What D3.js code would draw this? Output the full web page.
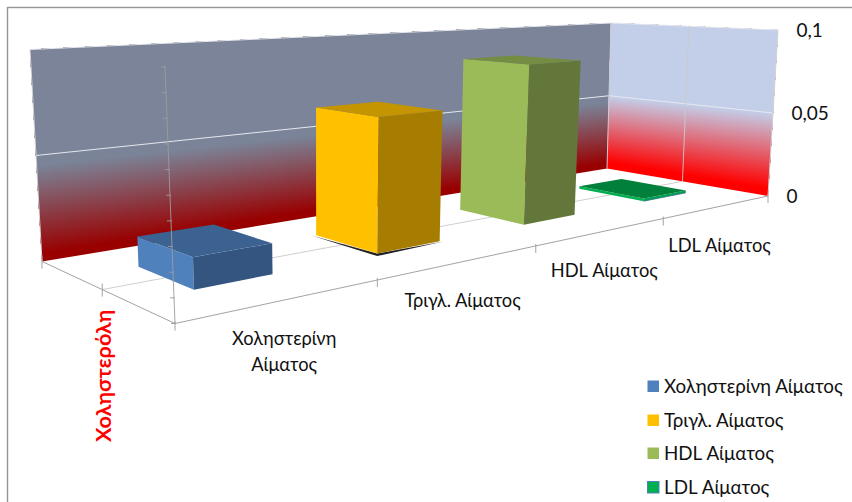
<!DOCTYPE html>
<html>
<head>
<meta charset="utf-8">
<script src="https://cdn.jsdelivr.net/npm/d3@7"></script>
<style>
  html, body { margin: 0; padding: 0; background: #fff; }
  svg { display: block; }
  text { font-family: "Lato", "Noto Sans", sans-serif; fill: #111; }
</style>
</head>
<body>
<svg id="chart" width="852" height="502"></svg>
<script>
// Chart content
const categories = ["Χοληστερίνη Αίματος", "Τριγλ. Αίματος", "HDL Αίματος", "LDL Αίματος"];
const categoryLines = [["Χοληστερίνη", "Αίματος"], ["Τριγλ. Αίματος"], ["HDL Αίματος"], ["LDL Αίματος"]];
const seriesName = "Χοληστερόλη";
const values = [0.014, 0.066, 0.086, 0.0015];
const labelledTicks = [0, 0.05, 0.1];
const tickText = ["0", "0,05", "0,1"];
const minorTicks = [0, 0.01, 0.02, 0.03, 0.04, 0.05, 0.06, 0.07, 0.08, 0.09, 0.1];

// Face colours per bar: side facing left, side facing right, top
const sideColors = ["#4f81bd", "#ffc000", "#9bbb59", "#00b050"];
const frontColors = ["#335580", "#a67d00", "#64773a", "#00a04c"];
const topColors = ["#3c6291", "#c49500", "#748d43", "#00803a"];

// Screen position of the eight corners of the 3D plot box
const floorQuad = { p00: [175, 323.5], p10: [768, 196], p11: [607, 168.5], p01: [42, 261.5] };
const ceilQuad = { p00: [165, 67], p10: [778, 30], p11: [611, 23], p01: [30, 49.5] };

// Perspective mapping of the unit square onto a screen quadrilateral
function perspectiveMap(q) {
  const [x0, y0] = q.p00, [x1, y1] = q.p10, [x2, y2] = q.p11, [x3, y3] = q.p01;
  const dx1 = x1 - x2, dx2 = x3 - x2, sx = x0 - x1 + x2 - x3;
  const dy1 = y1 - y2, dy2 = y3 - y2, sy = y0 - y1 + y2 - y3;
  const den = dx1 * dy2 - dx2 * dy1;
  const g = (sx * dy2 - dx2 * sy) / den;
  const h = (dx1 * sy - sx * dy1) / den;
  const a = x1 - x0 + g * x1, b = x3 - x0 + h * x3;
  const d = y1 - y0 + g * y1, e = y3 - y0 + h * y3;
  return (u, v) => {
    const w = g * u + h * v + 1;
    return [(a * u + b * v + x0) / w, (d * u + e * v + y0) / w];
  };
}
const floorMap = perspectiveMap(floorQuad);
const ceilMap = perspectiveMap(ceilQuad);

// Scales for the three box axes, each running over 0..1 of the box
const xBand = d3.scaleBand().domain(categories).range([0, 1]).paddingInner(0.6).paddingOuter(0.3);
const zBand = d3.scaleBand().domain([seriesName]).range([0, 1]).paddingInner(0).paddingOuter(0.75);
const yLin = d3.scaleLinear().domain([0, 0.1]).range([0, 1]);

const project = (u, v, value) => {
  const t = yLin(value);
  const a = floorMap(u, v), b = ceilMap(u, v);
  return [a[0] + (b[0] - a[0]) * t, a[1] + (b[1] - a[1]) * t];
};

const svg = d3.select("#chart");
const line = d3.line();
const poly = pts => line(pts) + "Z";

// Chart frame: only the top and left edges fall inside the page
svg.append("rect").attr("x", 7.5).attr("y", 7.5).attr("width", 1000).attr("height", 800)
  .attr("fill", "#fff").attr("stroke", "#949494").attr("stroke-width", 1.4);

// Walls fade with height; each band runs up to the wall top and the next one
// is painted over it, which keeps the fade free of seams
const backFade = d3.scaleLinear().domain([0.003, 0.045]).range(["#990000", "#7b8498"]).clamp(true);
const sideFade = d3.scaleLinear().domain([0.004, 0.05]).range(["#ff0000", "#c2d1ec"]).clamp(true);
const wallBands = d3.range(0, 0.05, 0.0005);
const wallLayer = svg.append("g");
wallLayer.selectAll("path.back").data(wallBands).join("path").attr("class", "back")
  .attr("d", h => poly([project(0, 1, h), project(1, 1, h), project(1, 1, 0.1), project(0, 1, 0.1)]))
  .attr("fill", h => backFade(h));
wallLayer.selectAll("path.side").data(wallBands).join("path").attr("class", "side")
  .attr("d", h => poly([project(1, 1, h), project(1, 0, h), project(1, 0, 0.1), project(1, 1, 0.1)]))
  .attr("fill", h => sideFade(h));

// Gridlines on the walls and floor
const grid = svg.append("g").attr("fill", "none");
labelledTicks.slice(1).forEach(h => {
  grid.append("path").attr("d", line([project(0, 1, h), project(1, 1, h), project(1, 0, h)]))
    .attr("stroke", "#e6e8ee").attr("stroke-width", 1);
});
grid.append("path").attr("d", line([project(0, 1, 0), project(0, 1, 0.1)])).attr("stroke", "#d9d9d9");
grid.append("path").attr("d", line([project(1, 1, 0), project(1, 1, 0.1)])).attr("stroke", "#c8ccd6");
grid.append("path").attr("d", line([project(1, 0, 0), project(1, 0, 0.1)])).attr("stroke", "#d4d4d4");
const zMid = zBand(seriesName) + zBand.bandwidth() / 2;
grid.append("path").attr("d", line([project(0, zMid, 0), project(1, zMid, 0), project(1, zMid, 0.1)]))
  .attr("stroke", "#c9c9c9").attr("stroke-width", 0.9);

// Floor edges and the category / depth tick marks
const axes = svg.append("g").attr("fill", "none").attr("stroke", "#a3a3a3").attr("stroke-width", 1);
axes.append("path").attr("d", line([project(0, 1, 0), project(0, 0, 0), project(1, 0, 0)]));
[0, 0.25, 0.5, 0.75, 1].forEach(u => {
  const p = project(u, 0, 0);
  axes.append("path").attr("d", line([[p[0], p[1] - 2], [p[0], p[1] + 7]]));
});
[zMid, 1].forEach(v => {
  const p = project(0, v, 0);
  axes.append("path").attr("d", line([[p[0], p[1] - 6], [p[0], p[1] + 7]]));
});

// Bars: a contact shadow, then the three visible faces
const z0 = zBand(seriesName), z1 = z0 + zBand.bandwidth();
const bars = svg.append("g");
values.forEach((value, i) => {
  const u0 = xBand(categories[i]), u1 = u0 + xBand.bandwidth();
  const bl = project(u0, z1, 0), bf = project(u0, z0, 0), br = project(u1, z0, 0);
  const tl = project(u0, z1, value), tf = project(u0, z0, value), tr = project(u1, z0, value), tb = project(u1, z1, value);
  if (i === 1) {
    bars.append("path").attr("d", poly([[bl[0] - 4, bl[1] + 0.5], [bf[0], bf[1] + 2.5], [br[0] + 4, br[1] + 0.2], bf]))
      .attr("fill", "#222");
  }
  bars.append("path").attr("d", poly([bl, bf, tf, tl])).attr("fill", sideColors[i]);
  bars.append("path").attr("d", poly([bf, br, tr, tf])).attr("fill", frontColors[i]);
  bars.append("path").attr("d", poly([tl, tf, tr, tb])).attr("fill", topColors[i]);
  if (i === 3) {
    bars.append("path").attr("d", line([bf, br])).attr("fill", "none").attr("stroke", "#2f6f8f").attr("stroke-width", 0.8);
  }
});

// Unlabelled value axis standing on the front corner, drawn over the bars
const valueAxis = svg.append("g").attr("fill", "none").attr("stroke", "#9c9c9c").attr("stroke-width", 0.9);
valueAxis.append("path").attr("d", line([project(0, 0, 0), project(0, 0, 0.1)]));
minorTicks.forEach(h => {
  const p = project(0, 0, h);
  valueAxis.append("path").attr("d", line([[p[0] - 4, p[1]], [p[0] + 1, p[1]]]));
});

// Value labels to the right of the box
labelledTicks.forEach((h, i) => {
  const p = project(1, 0, h);
  svg.append("text").attr("x", p[0] + 18.5).attr("y", p[1] + 7).attr("font-size", 19).text(tickText[i]);
});

// Category labels beneath the front edge
categoryLines.forEach((rows, i) => {
  const c = xBand(categories[i]) + xBand.bandwidth() / 2;
  const p = project(c, 0, 0);
  rows.forEach((row, r) => {
    svg.append("text").attr("x", p[0] + 1.5).attr("y", p[1] + 45 + r * 26)
      .attr("text-anchor", "middle").attr("font-size", 18.3).text(row);
  });
});

// Axis title
svg.append("text").attr("transform", "translate(111,442) rotate(-90)")
  .attr("font-size", 21.6).attr("font-weight", 700).style("fill", "#ff0000").text(seriesName);

// Legend
const legendRows = [393, 427, 460, 494];
legendRows.forEach((y, i) => {
  svg.append("rect").attr("x", 647.5).attr("y", y - 12.5).attr("width", 11.5).attr("height", 11.5)
    .attr("fill", sideColors[i]).attr("stroke", i === 3 ? "#4f81bd" : "none").attr("stroke-width", 1);
  svg.append("text").attr("x", 664).attr("y", y).attr("font-size", 18.8).text(categories[i]);
});
</script>
</body>
</html>
